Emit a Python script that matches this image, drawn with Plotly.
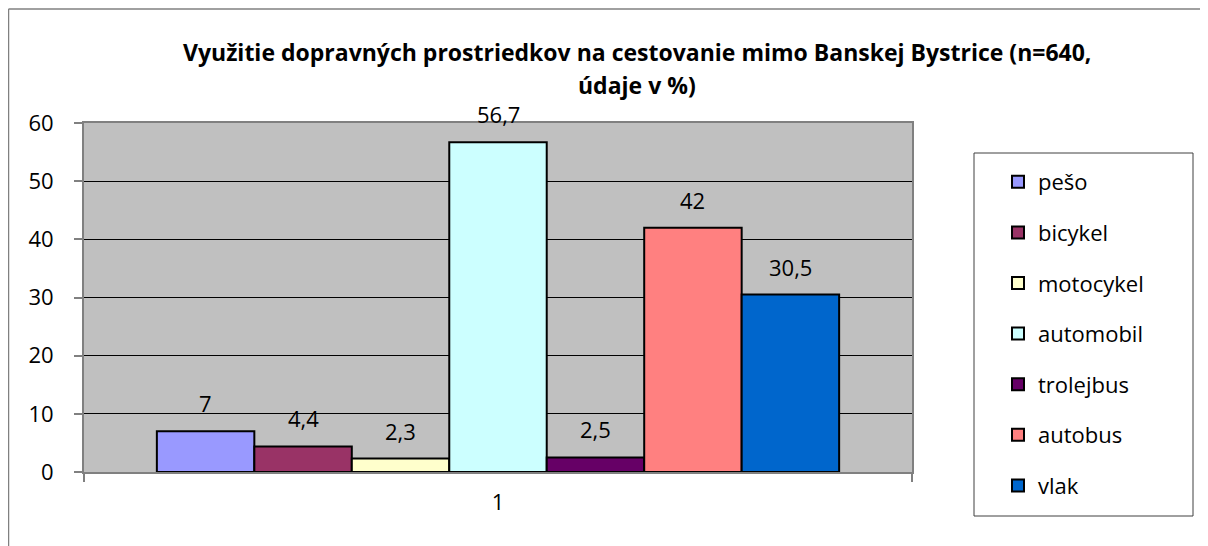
import plotly.graph_objects as go

# ---- data ----
series_names = ["pešo", "bicykel", "motocykel", "automobil", "trolejbus", "autobus", "vlak"]
series_values = [7, 4.4, 2.3, 56.7, 2.5, 42, 30.5]
series_colors = ["#9999FF", "#993366", "#FFFFCC", "#CCFFFF", "#660066", "#FF8080", "#0066CC"]
category_labels = ["1"]
title_lines = ["Využitie dopravných prostriedkov na cestovanie mimo Banskej Bystrice (n=640,",
               "údaje v %)"]

# ---- layout geometry (reference-page pixels; page body has an 8px margin) ----
OFF = 8
W, H = 1208 - OFF, 546 - OFF
PL, PR, PT, PB = 84, 912, 123, 472   # plot area in page pixels
FONT = "'Open Sans', Lato, sans-serif"
BARGAP = 0.176


def px2x(p):
    return (p - PL) / (PR - PL)


def px2y(q):
    return (PB - q) / (PB - PT)


def fmt(v):
    return f"{v:g}".replace(".", ",")


fig = go.Figure()
n = len(series_names)
bw = (1 - BARGAP) / n
annotations = []
for i, (name, val, col) in enumerate(zip(series_names, series_values, series_colors)):
    fig.add_trace(go.Bar(
        x=[0], y=[val], name=name, legendgroup=name,
        marker=dict(color=col, line=dict(color="black", width=2)),
        hoverinfo="name+y",
    ))
    xc = -(1 - BARGAP) / 2 + (i + 0.5) * bw
    annotations.append(dict(x=xc, y=val, xref="x", yref="y", text=fmt(val),
                            showarrow=False, yanchor="middle", yshift=28,
                            font=dict(family=FONT, size=22, color="black")))

for line_text, yc in zip(title_lines, [52, 85]):
    annotations.append(dict(x=px2x(637), y=px2y(yc), xref="paper", yref="paper",
                            text="<b>" + line_text + "</b>", showarrow=False,
                            xanchor="center", yanchor="middle",
                            font=dict(family=FONT, size=23, color="black")))

shapes = [
    # chart outer border (left & top)
    dict(type="line", xref="paper", yref="paper", x0=px2x(8.5), x1=px2x(8.5), y0=px2y(9), y1=px2y(560),
         line=dict(color="#808080", width=1.5)),
    dict(type="line", xref="paper", yref="paper", x0=px2x(8.5), x1=px2x(1230), y0=px2y(9), y1=px2y(9),
         line=dict(color="#808080", width=1.5)),
    # legend box
    dict(type="rect", xref="paper", yref="paper", x0=px2x(974), x1=px2x(1193), y0=px2y(153), y1=px2y(516),
         line=dict(color="#404040", width=1), fillcolor="rgba(0,0,0,0)"),
]

fig.update_layout(
    width=W, height=H,
    margin=dict(l=PL - OFF, r=W - (PR - OFF), t=PT - OFF, b=H - (PB - OFF), autoexpand=False),
    paper_bgcolor="white", plot_bgcolor="#C0C0C0",
    barmode="group", bargap=BARGAP, bargroupgap=0,
    showlegend=True,
    legend=dict(x=px2x(998), y=px2y(161), xanchor="left", yanchor="top",
                bgcolor="rgba(0,0,0,0)", borderwidth=0,
                font=dict(family=FONT, size=22, color="black"),
                tracegroupgap=19, traceorder="grouped"),
    annotations=annotations, shapes=shapes,
    font=dict(family=FONT, color="black"),
)
fig.update_xaxes(range=[-0.5, 0.5], tickvals=[0], ticktext=category_labels,
                 showgrid=False, zeroline=False,
                 showline=True, linecolor="#808080", linewidth=2, mirror=True,
                 ticks="", ticklabelstandoff=10,
                 minor=dict(tick0=-0.5, dtick=1, ticks="outside", ticklen=8, tickcolor="#808080", tickwidth=1.5),
                 tickfont=dict(family=FONT, size=22, color="black"), fixedrange=True)
fig.update_yaxes(range=[0, 60], dtick=10, showgrid=True, gridcolor="black", gridwidth=1,
                 zeroline=False, showline=True, linecolor="#808080", linewidth=2, mirror=True,
                 ticks="outside", ticklen=8, tickcolor="#808080", tickwidth=1.5,
                 ticklabelstandoff=16,
                 tickfont=dict(family=FONT, size=22, color="black"), fixedrange=True)

fig.write_html("out.html")
